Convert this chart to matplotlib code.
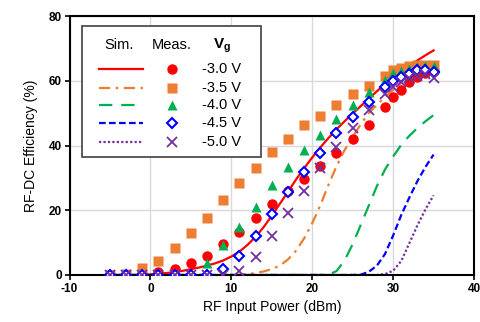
import numpy as np
import matplotlib
matplotlib.use("Agg")
import matplotlib.pyplot as plt
from matplotlib.lines import Line2D
from matplotlib.patches import Rectangle

plt.rcParams['font.family'] = ['Liberation Sans', 'DejaVu Sans']
plt.rcParams['axes.unicode_minus'] = False
plt.rcParams['mathtext.fontset'] = 'custom'
plt.rcParams['mathtext.bf'] = 'Liberation Sans:bold'
plt.rcParams['mathtext.rm'] = 'Liberation Sans'

# measured points (input power in dBm, efficiency in %)
meas_x = [-5, -3, -1, 1, 3, 5, 7, 9, 11, 13, 15, 17, 19, 21, 23, 25, 27, 29, 30, 31, 32, 33, 34, 35]
meas_30 = [0, 0, 0.2, 0.8, 1.8, 3.6, 5.9, 9.6, 13.3, 17.6, 21.9, 25.8, 29.8, 33.8, 37.7, 42.1, 46.4, 51.8, 54.9, 57.1, 59.7, 61.2, 62.3, 63.0]
meas_35 = [0, 0.3, 2.1, 4.4, 8.4, 13.1, 17.7, 23.1, 28.4, 33.1, 37.9, 42.0, 46.5, 49.1, 52.4, 55.8, 58.4, 61.5, 63.2, 64.0, 64.5, 64.8, 65.0, 64.8]
meas_40 = [0, 0, 0, 0, 0, 0.3, 3.6, 9.3, 14.8, 21.1, 27.8, 33.3, 38.7, 43.3, 48.3, 52.6, 56.4, 60.4, 62.4, 63.0, 63.7, 64.2, 64.5, 64.5]
meas_45 = [0, 0, 0, 0, 0, 0, 0, 2.0, 5.9, 11.9, 18.9, 25.7, 31.8, 37.7, 43.9, 48.7, 53.5, 58.1, 60.0, 61.2, 62.2, 63.3, 63.3, 62.7]
meas_50 = [0, 0, 0, 0, 0, 0, 0, 0, 1.2, 5.7, 12.2, 19.2, 26.0, 33.1, 39.6, 45.4, 50.9, 56.0, 58.1, 59.5, 60.9, 61.6, 62.2, 61.0]

# simulated curves, read every 1 dBm from -5 to 35
sim_x = np.arange(-5, 36)
sim_30 = [0, 0, 0, 0, 0.1, 0.2, 0.4, 0.6, 0.9, 1.3, 1.8, 2.3, 2.9, 3.6, 4.5, 5.7, 7.2, 9.3, 11.8, 14.8,
          18.3, 22.0, 25.7, 29.5, 33.0, 36.3, 39.4, 42.3, 45.0, 47.5, 49.9, 52.2, 54.5, 56.8, 59.0, 61.0,
          62.9, 64.6, 66.3, 67.9, 69.4]
sim_35 = [0] * 16 + [0.1, 0.3, 0.6, 1.1, 1.8, 2.9, 4.8, 7.5, 11.3, 16.0, 21.5, 27.8, 33.6, 38.6, 42.6,
                     46.6, 50.0, 52.6, 55.0, 57.2, 59.1, 60.8, 62.2, 63.3, 64.2]
sim_40 = [0] * 27 + [0.1, 1.2, 4.5, 9.5, 15.5, 21.5, 27.5, 32.6, 36.6, 40.2, 43.0, 45.4, 47.5, 49.4]
sim_45 = [0] * 31 + [0.1, 1.0, 2.9, 6.5, 12.2, 18.5, 23.9, 29.0, 33.4, 37.2]
sim_50 = [0] * 34 + [0.3, 1.3, 4.3, 9.8, 15.3, 20.3, 24.6]

vg_labels = ["-3.0 V", "-3.5 V", "-4.0 V", "-4.5 V", "-5.0 V"]
colors = ["#ff0000", "#ed7d31", "#00b050", "#0000ff", "#7030a0"]
line_styles = ["solid", (0, (5, 2.5, 1.2, 2.5)), (0, (6, 4)), (0, (3, 1.5)), (0, (1, 1))]
markers = ["o", "s", "^", "D", "x"]
msizes = [7.5, 6.5, 7.5, 5.5, 6.5]

sims = [sim_30, sim_35, sim_40, sim_45, sim_50]
meas = [meas_30, meas_35, meas_40, meas_45, meas_50]


def marker_kw(i):
    kw = dict(marker=markers[i], ms=msizes[i], color=colors[i], linestyle='none')
    if markers[i] == 'D':
        kw.update(mfc='white', mec=colors[i], mew=1.5)
    elif markers[i] == 'x':
        kw.update(mew=1.3)
    else:
        kw.update(mec='none')
    return kw


fig = plt.figure(figsize=(4.81, 3.22), dpi=100)
ax = fig.add_axes([0.1445, 0.146, 0.841, 0.804])

for i in range(5):
    ax.plot(sim_x, sims[i], color=colors[i], linestyle=line_styles[i], linewidth=1.6, zorder=2)
for i in range(5):
    ax.plot(meas_x, meas[i], zorder=3, **marker_kw(i))

ax.set_xlim(-10, 40)
ax.set_ylim(0, 80)
ax.set_xticks(np.arange(-10, 41, 10))
ax.set_yticks(np.arange(0, 81, 20))
ax.grid(True, color='#d9d9d9', linewidth=1.0, zorder=0)
ax.set_axisbelow(True)
for s in ax.spines.values():
    s.set_linewidth(1.5)
    s.set_color('black')
ax.tick_params(direction='out', length=3.5, width=1.2, labelsize=8.5, pad=2)
for lab in ax.get_xticklabels() + ax.get_yticklabels():
    lab.set_fontweight('bold')
ax.set_xlabel("RF Input Power (dBm)", fontsize=10, labelpad=4)
ax.set_ylabel("RF-DC Efficiency (%)", fontsize=10, labelpad=8)

# hand-built three-column legend
ax.add_patch(Rectangle((0.030, 0.455), 0.443, 0.505, transform=ax.transAxes,
                       facecolor='white', edgecolor='#404040', linewidth=1.2, zorder=5))
ax.text(0.123, 0.887, "Sim.", transform=ax.transAxes, ha='center', va='center', fontsize=10.5, zorder=6)
ax.text(0.253, 0.887, "Meas.", transform=ax.transAxes, ha='center', va='center', fontsize=10.5, zorder=6)
ax.text(0.378, 0.887, r"$\mathbf{V_g}$", transform=ax.transAxes, ha='center', va='center', fontsize=11, zorder=6)
row_y = [0.795, 0.724, 0.656, 0.586, 0.512]
for i in range(5):
    ax.add_line(Line2D([0.074, 0.181], [row_y[i]] * 2, transform=ax.transAxes, color=colors[i],
                       linestyle=line_styles[i], linewidth=1.6, zorder=6))
    ax.add_line(Line2D([0.254], [row_y[i]], transform=ax.transAxes, zorder=6, **marker_kw(i)))
    ax.text(0.328, row_y[i], vg_labels[i], transform=ax.transAxes, ha='left', va='center',
            fontsize=10.5, zorder=6)

fig.savefig("out.png", dpi=100)
